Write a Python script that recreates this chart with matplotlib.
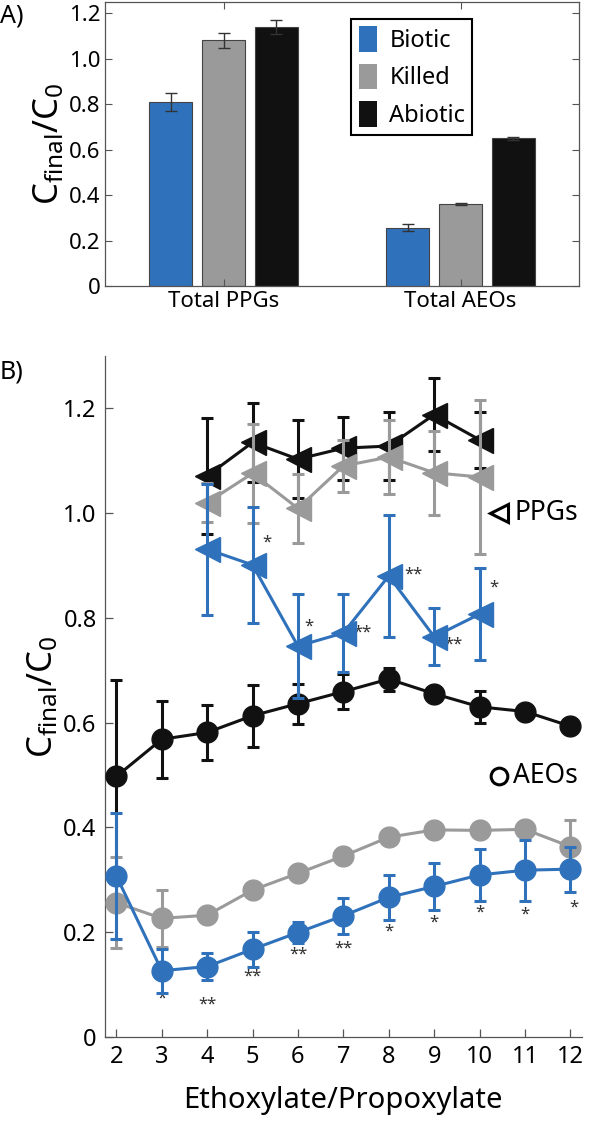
import numpy as np
import matplotlib
matplotlib.use("Agg")
import matplotlib.pyplot as plt
from matplotlib.patches import Patch

plt.rcParams['font.family'] = 'Noto Sans'
plt.rcParams['mathtext.fontset'] = 'custom'
plt.rcParams['mathtext.rm'] = 'Noto Sans'
plt.rcParams['mathtext.it'] = 'Noto Sans'

BLUE = '#2f72bb'
GRAY = '#9a9a9a'
BLACK = '#111111'
AXC = '#555555'

# ---- panel A data ----
groups = ['Total PPGs', 'Total AEOs']
treatments = ['Biotic', 'Killed', 'Abiotic']
bar_biotic = [0.809, 0.257]
bar_killed = [1.082, 0.361]
bar_abiotic = [1.140, 0.651]
err_biotic = [0.040, 0.016]
err_killed = [0.033, 0.004]
err_abiotic = [0.030, 0.007]

# ---- panel B data ----
ppg_x = [4, 5, 6, 7, 8, 9, 10]
ppg_abiotic = [1.071, 1.135, 1.103, 1.124, 1.128, 1.188, 1.140]
ppg_abiotic_err = [0.110, 0.075, 0.075, 0.060, 0.065, 0.070, 0.053]
ppg_killed = [1.020, 1.076, 1.009, 1.090, 1.107, 1.077, 1.069]
ppg_killed_err = [0.037, 0.095, 0.066, 0.050, 0.070, 0.080, 0.147]
ppg_biotic = [0.931, 0.901, 0.746, 0.771, 0.880, 0.764, 0.807]
ppg_biotic_err = [0.125, 0.110, 0.100, 0.075, 0.117, 0.055, 0.088]

aeo_x = [2, 3, 4, 5, 6, 7, 8, 9, 10, 11, 12]
aeo_abiotic = [0.497, 0.568, 0.581, 0.613, 0.636, 0.659, 0.683, 0.655, 0.630, 0.621, 0.593]
aeo_abiotic_err = [0.185, 0.073, 0.053, 0.059, 0.038, 0.033, 0.022, 0.005, 0.030, 0.004, 0.004]
aeo_killed = [0.256, 0.226, 0.232, 0.280, 0.312, 0.345, 0.381, 0.395, 0.394, 0.396, 0.363]
aeo_killed_err = [0.087, 0.055, 0.005, 0.012, 0.006, 0.015, 0.010, 0.006, 0.006, 0.006, 0.050]
aeo_biotic = [0.307, 0.126, 0.134, 0.167, 0.199, 0.231, 0.266, 0.287, 0.309, 0.318, 0.320]
aeo_biotic_err = [0.120, 0.042, 0.026, 0.033, 0.020, 0.034, 0.043, 0.045, 0.049, 0.058, 0.043]

# significance marks (x, y, label)
ppg_stars_x = [5.32, 6.24, 7.41, 8.55, 9.43, 10.31]
ppg_stars_y = [0.944, 0.783, 0.771, 0.882, 0.748, 0.857]
ppg_stars = ['*', '*', '**', '**', '**', '*']
aeo_stars_x = [3, 4, 5, 6, 7, 8, 9, 10, 11, 12.07]
aeo_stars_y = [0.072, 0.062, 0.115, 0.156, 0.169, 0.200, 0.218, 0.237, 0.234, 0.246]
aeo_stars = ['*', '**', '**', '**', '**', '*', '*', '*', '*', '*']

fig = plt.figure(figsize=(5.96, 11.22), dpi=100)

# ================= panel A =================
axA = fig.add_axes([105/596, 1-286/1122, 474/596, 284/1122])
xg = np.arange(1, len(groups)+1)
off = 0.223
w = 0.18
for i, (vals, errs, col) in enumerate([(bar_biotic, err_biotic, BLUE),
                                        (bar_killed, err_killed, GRAY),
                                        (bar_abiotic, err_abiotic, BLACK)]):
    axA.bar(xg + (i-1)*off, vals, w, color=col, edgecolor='#444444', linewidth=0.8,
            yerr=errs, error_kw=dict(ecolor='#333333', elinewidth=1.0, capsize=4, capthick=1.0))
axA.set_xlim(0.5, 2.5)
axA.set_ylim(0, 1.25)
axA.set_xticks(xg)
axA.set_xticklabels(groups, fontsize=16)
axA.set_yticks(np.arange(0, 1.21, 0.2))
axA.set_yticklabels(['0', '0.2', '0.4', '0.6', '0.8', '1.0', '1.2'], fontsize=16)
axA.tick_params(direction='in', length=5, color=AXC, top=True, right=True, width=0.8)
for s in axA.spines.values():
    s.set_color(AXC)
    s.set_linewidth(0.9)
axA.set_ylabel(r'$\mathregular{C_{final}/C_0}$', fontsize=25, labelpad=2)
handles = [Patch(facecolor=c, edgecolor='none') for c in [BLUE, GRAY, BLACK]]
leg = axA.legend(handles, treatments, loc='upper left', bbox_to_anchor=(0.52, 0.94),
                 fontsize=17, handlelength=0.8, handleheight=1.3, handletextpad=0.5,
                 labelspacing=0.45, borderpad=0.3, borderaxespad=0, fancybox=False,
                 framealpha=1, edgecolor='black')
leg.get_frame().set_linewidth(1.5)
fig.text(0.0, 1-16/1122, 'A)', fontsize=18, va='center', ha='left')

# ================= panel B =================
axB = fig.add_axes([105/596, 1-1036.7/1122, 476.7/596, 680.7/1122])
lw = 2.2
ekw = dict(elinewidth=lw, capsize=4.5, capthick=lw)

axB.errorbar(aeo_x, aeo_abiotic, yerr=aeo_abiotic_err, color=BLACK, marker='o', ms=15, lw=lw, zorder=3, **ekw)
axB.errorbar(aeo_x, aeo_killed, yerr=aeo_killed_err, color=GRAY, marker='o', ms=15, lw=lw, zorder=4, **ekw)
axB.errorbar(aeo_x, aeo_biotic, yerr=aeo_biotic_err, color=BLUE, marker='o', ms=15, lw=lw, zorder=5, **ekw)

axB.errorbar(ppg_x, ppg_abiotic, yerr=ppg_abiotic_err, color=BLACK, marker='<', ms=18, lw=lw, zorder=3, **ekw)
axB.errorbar(ppg_x, ppg_killed, yerr=ppg_killed_err, color=GRAY, marker='<', ms=18, lw=lw, zorder=4, **ekw)
axB.errorbar(ppg_x, ppg_biotic, yerr=ppg_biotic_err, color=BLUE, marker='<', ms=18, lw=lw, zorder=5, **ekw)

for x, y, s in zip(ppg_stars_x, ppg_stars_y, ppg_stars):
    axB.text(x, y, s, fontsize=12, color='#333333', ha='center', va='center')
for x, y, s in zip(aeo_stars_x, aeo_stars_y, aeo_stars):
    axB.text(x, y, s, fontsize=12, color='#333333', ha='center', va='center')

# marker key
axB.plot([0.826], [0.770], marker='<', ms=13, mfc='none', mec='black', mew=2.2,
         transform=axB.transAxes, clip_on=False)
axB.text(0.858, 0.770, 'PPGs', fontsize=19, transform=axB.transAxes, va='center', ha='left')
axB.plot([0.826], [0.383], marker='o', ms=12, mfc='none', mec='black', mew=2.2,
         transform=axB.transAxes, clip_on=False)
axB.text(0.856, 0.383, 'AEOs', fontsize=19, transform=axB.transAxes, va='center', ha='left')

axB.set_xlim(1.75, 12.25)
axB.set_ylim(0, 1.3)
axB.set_xticks(range(2, 13))
axB.set_xticklabels([str(v) for v in range(2, 13)], fontsize=17)
axB.set_yticks(np.arange(0, 1.21, 0.2))
axB.set_yticklabels(['0', '0.2', '0.4', '0.6', '0.8', '1.0', '1.2'], fontsize=17)
axB.tick_params(direction='in', length=6, color=AXC, width=0.9, pad=6)
axB.spines['top'].set_visible(False)
axB.spines['right'].set_visible(False)
for s in ['left', 'bottom']:
    axB.spines[s].set_color(AXC)
    axB.spines[s].set_linewidth(0.9)
axB.set_ylabel(r'$\mathregular{C_{final}/C_0}$', fontsize=25, labelpad=2)
axB.set_xlabel('Ethoxylate/Propoxylate', fontsize=21, labelpad=12)
fig.text(0.0, 1-372/1122, 'B)', fontsize=18, va='center', ha='left')

fig.savefig('out.png', dpi=100)
